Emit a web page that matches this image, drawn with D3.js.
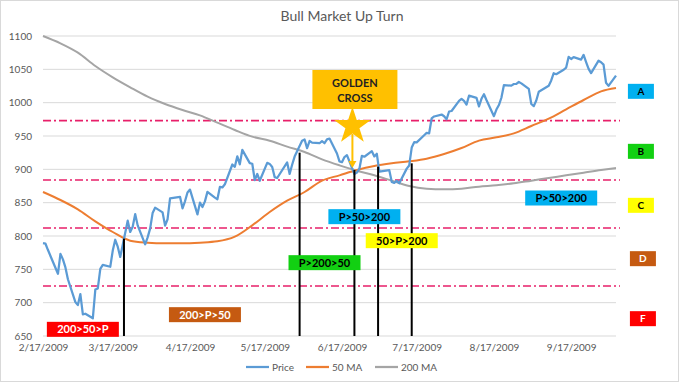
<!DOCTYPE html>
<html><head><meta charset="utf-8">
<script src="https://cdnjs.cloudflare.com/ajax/libs/d3/7.8.5/d3.min.js"></script>
<style>
body{margin:0;background:#fff;}
svg{display:block;font-family:Lato,"Open Sans",sans-serif;}
</style></head>
<body><svg id="c" width="679" height="382"></svg>
<script>
// ---- data ----
const priceDates = ["2009-02-17","2009-02-18","2009-02-19","2009-02-20","2009-02-23","2009-02-24","2009-02-25","2009-02-26","2009-02-27",
"2009-03-02","2009-03-03","2009-03-04","2009-03-05","2009-03-06","2009-03-09","2009-03-10","2009-03-11","2009-03-12","2009-03-13","2009-03-16","2009-03-17","2009-03-18","2009-03-19","2009-03-20","2009-03-23","2009-03-24","2009-03-25","2009-03-26","2009-03-27","2009-03-30","2009-03-31",
"2009-04-01","2009-04-02","2009-04-03","2009-04-06","2009-04-07","2009-04-08","2009-04-09","2009-04-13","2009-04-14","2009-04-15","2009-04-16","2009-04-17","2009-04-20","2009-04-21","2009-04-22","2009-04-23","2009-04-24","2009-04-27","2009-04-28","2009-04-29","2009-04-30",
"2009-05-01","2009-05-04","2009-05-05","2009-05-06","2009-05-07","2009-05-08","2009-05-11","2009-05-12","2009-05-13","2009-05-14","2009-05-15","2009-05-18","2009-05-19","2009-05-20","2009-05-21","2009-05-22","2009-05-26","2009-05-27","2009-05-28","2009-05-29",
"2009-06-01","2009-06-02","2009-06-03","2009-06-04","2009-06-05","2009-06-08","2009-06-09","2009-06-10","2009-06-11","2009-06-12","2009-06-15","2009-06-16","2009-06-17","2009-06-18","2009-06-19","2009-06-22","2009-06-23","2009-06-24","2009-06-25","2009-06-26","2009-06-29","2009-06-30",
"2009-07-01","2009-07-02","2009-07-06","2009-07-07","2009-07-08","2009-07-09","2009-07-10","2009-07-13","2009-07-14","2009-07-15","2009-07-16","2009-07-17","2009-07-20","2009-07-21","2009-07-22","2009-07-23","2009-07-24","2009-07-27","2009-07-28","2009-07-29","2009-07-30","2009-07-31",
"2009-08-03","2009-08-04","2009-08-05","2009-08-06","2009-08-07","2009-08-10","2009-08-11","2009-08-12","2009-08-13","2009-08-14","2009-08-17","2009-08-18","2009-08-19","2009-08-20","2009-08-21","2009-08-24","2009-08-25","2009-08-26","2009-08-27","2009-08-28","2009-08-31",
"2009-09-01","2009-09-02","2009-09-03","2009-09-04","2009-09-08","2009-09-09","2009-09-10","2009-09-11","2009-09-14","2009-09-15","2009-09-16","2009-09-17","2009-09-18","2009-09-21","2009-09-22","2009-09-23","2009-09-24","2009-09-25","2009-09-28","2009-09-29","2009-09-30",
"2009-10-01","2009-10-02","2009-10-05"];
const priceValues = [789.17,788.42,778.94,770.05,743.33,773.14,764.90,752.83,735.09,
700.82,696.33,712.87,682.55,683.38,676.53,719.60,721.36,750.74,756.55,753.89,778.12,794.35,784.04,768.54,822.92,806.12,813.88,832.86,815.94,787.53,797.87,
811.08,834.38,842.50,835.48,815.55,825.16,856.56,858.73,841.50,852.06,865.30,869.60,832.39,850.08,843.55,851.92,866.23,857.51,855.16,873.64,872.81,
877.52,907.24,903.80,919.53,907.39,929.23,909.24,908.35,883.92,893.07,882.88,909.71,908.13,903.47,888.33,887.00,910.33,893.06,906.83,919.14,
942.87,944.74,931.76,942.46,940.09,939.14,942.43,939.15,944.89,946.21,923.72,911.97,910.71,918.37,921.23,893.04,895.10,900.94,920.26,918.90,927.23,919.32,
923.33,896.42,898.72,881.03,879.56,882.68,879.13,901.05,905.84,932.68,940.74,940.38,951.13,954.58,954.07,976.29,979.26,982.18,979.62,975.15,986.75,987.48,
1002.63,1005.65,1002.72,997.08,1010.48,1007.10,994.35,1005.81,1012.73,1004.09,979.73,989.67,996.46,1007.37,1026.13,1025.57,1028.00,1028.12,1030.98,1028.93,1020.62,
998.04,994.75,1003.24,1016.40,1025.39,1033.37,1044.14,1042.73,1049.34,1052.63,1068.76,1065.49,1068.30,1064.66,1071.66,1060.87,1050.78,1044.38,1062.98,1060.61,1057.08,
1029.85,1025.21,1040.46];

const maDates = ["2009-02-17","2009-02-24","2009-03-03","2009-03-10","2009-03-17","2009-03-24","2009-03-31","2009-04-07","2009-04-14","2009-04-21","2009-04-28",
"2009-05-05","2009-05-12","2009-05-19","2009-05-26","2009-06-02","2009-06-09","2009-06-16","2009-06-23","2009-06-30","2009-07-07","2009-07-14","2009-07-21","2009-07-28",
"2009-08-04","2009-08-11","2009-08-18","2009-08-25","2009-09-01","2009-09-08","2009-09-15","2009-09-22","2009-09-29","2009-10-05"];
const ma50Values = [866,854,840,822,806,793,790,789,789,790,792,799,816,836,853,866,883,891,899,905,909,912,916,923,932,943,948,954,965,976,990,1004,1017,1022];
const ma200Values = [1100,1089,1075,1055,1038,1023,1009,998,989,981,970,959,949,943,934,926,915,906,898,891,883,875,871,870,871,874,876,879,883,887,891,895,899,902];

const yTicks = [650,700,750,800,850,900,950,1000,1050,1100];
const xTickDates = ["2009-02-17","2009-03-17","2009-04-17","2009-05-17","2009-06-17","2009-07-17","2009-08-17","2009-09-17"];
const levelValues = [973,884,812,725];
const markerDates = ["2009-03-21T12:00","2009-05-31T00:00","2009-06-22T00:00","2009-07-01T12:00","2009-07-15T00:00"];
const markerValues = [796,925,899,904,909];
const zoneLabels = ["200>50>P","200>P>50","P>200>50","P>50>200","50>P>200","P>50>200"];
const zoneDates = ["2009-03-05","2009-04-23","2009-06-10","2009-06-26","2009-07-11","2009-09-13"];
const zoneValues = [660,682,760,829,793,857];
const zoneColors = ["#FF0000","#C55A11","#12D012","#00B0F0","#FFFF00","#00B0F0"];
const zoneText = ["#fff","#fff","#000","#000","#000","#000"];
const gradeLabels = ["A","B","C","D","F"];
const gradeValues = [1017,927,846,766,676];
const gradeColors = ["#00B0F0","#12D012","#FFFF00","#C55A11","#FF0000"];
const gradeText = ["#000","#000","#000","#fff","#fff"];
const gradeDate = "2009-10-15";
const crossDate = "2009-06-22", crossValue = 899;
const series = ["Price","50 MA","200 MA"];
const seriesColors = ["#5B9BD5","#ED7D31","#A5A5A5"];

// ---- chart ----
const svg = d3.select("#c");
const pd = s => new Date(s.length > 10 ? s : s + "T00:00");
const x = d3.scaleTime().domain([pd("2009-02-17"), pd("2009-10-05")]).range([43, 616]);
const y = d3.scaleLinear().domain([650, 1100]).range([336, 36]);

svg.append("rect").attr("x",0.5).attr("y",0.5).attr("width",678).attr("height",381)
  .attr("fill","#fff").attr("stroke","#d9d9d9");

svg.append("text").attr("x",342).attr("y",21).attr("text-anchor","middle")
  .attr("font-size",14).attr("fill","#595959").text("Bull Market Up Turn");

// gridlines
svg.append("g").selectAll("line").data(yTicks).join("line")
  .attr("x1",43).attr("x2",616).attr("y1",d=>y(d)).attr("y2",d=>y(d))
  .attr("stroke","#d9d9d9").attr("stroke-width",1);

// axes
const ya = svg.append("g").attr("transform","translate(43,0)")
  .call(d3.axisLeft(y).tickValues(yTicks).tickSize(0).tickPadding(11).tickFormat(d3.format("d")));
ya.select(".domain").remove();
ya.selectAll("text").attr("font-size",10).attr("fill","#595959").attr("font-family","Lato");

const xa = svg.append("g").attr("transform","translate(0,336)")
  .call(d3.axisBottom(x).tickValues(xTickDates.map(pd)).tickSize(0).tickPadding(8).tickFormat(d3.timeFormat("%-m/%-d/%Y")));
xa.select(".domain").remove();
xa.selectAll("text").attr("font-size",10).attr("fill","#595959").attr("font-family","Lato");

// level lines
svg.append("g").selectAll("line").data(levelValues).join("line")
  .attr("x1",43).attr("x2",620).attr("y1",d=>y(d)).attr("y2",d=>y(d))
  .attr("stroke","#E8206A").attr("stroke-width",1.6).attr("stroke-dasharray","8,3,2,3");

// series lines
const line = d3.line().x(d=>x(d[0])).y(d=>y(d[1]));
const ma200 = maDates.map((d,i)=>[pd(d), ma200Values[i]]);
const ma50 = maDates.map((d,i)=>[pd(d), ma50Values[i]]);
const price = priceDates.map((d,i)=>[pd(d), priceValues[i]]);
svg.append("path").datum(ma200).attr("d",line.curve(d3.curveMonotoneX)).attr("fill","none")
  .attr("stroke",seriesColors[2]).attr("stroke-width",2);
svg.append("path").datum(ma50).attr("d",line.curve(d3.curveMonotoneX)).attr("fill","none")
  .attr("stroke",seriesColors[1]).attr("stroke-width",2);
svg.append("path").datum(price).attr("d",line.curve(d3.curveLinear)).attr("fill","none")
  .attr("stroke",seriesColors[0]).attr("stroke-width",2.25).attr("stroke-linejoin","round");

// marker verticals
svg.append("g").selectAll("line").data(markerDates).join("line")
  .attr("x1",d=>x(pd(d))).attr("x2",d=>x(pd(d)))
  .attr("y1",y(650)).attr("y2",(d,i)=>y(markerValues[i]))
  .attr("stroke","#000").attr("stroke-width",2);

// zone labels
const zg = svg.append("g").selectAll("g").data(zoneLabels).join("g")
  .attr("transform",(d,i)=>`translate(${x(pd(zoneDates[i]))},${y(zoneValues[i])})`);
zg.append("rect").attr("x",-36).attr("y",-7.5).attr("width",72).attr("height",15).attr("fill",(d,i)=>zoneColors[i]);
zg.append("text").attr("text-anchor","middle").attr("dy","0.36em").attr("font-size",11).attr("font-weight","bold")
  .attr("fill",(d,i)=>zoneText[i]).text(d=>d);

// grade labels
const gg = svg.append("g").selectAll("g").data(gradeLabels).join("g")
  .attr("transform",(d,i)=>`translate(${x(pd(gradeDate)) + (i>=3?2:0)},${y(gradeValues[i])})`);
gg.append("rect").attr("x",-13).attr("y",-7.5).attr("width",26).attr("height",15).attr("fill",(d,i)=>gradeColors[i]);
gg.append("text").attr("text-anchor","middle").attr("dy","0.36em").attr("font-size",10).attr("font-weight","bold")
  .attr("fill",(d,i)=>gradeText[i]).text(d=>d);

// golden cross annotation
const cx = x(pd(crossDate)), cy = y(crossValue);
const gc = svg.append("g");
gc.append("rect").attr("x",cx-42).attr("y",cy-100).attr("width",85).attr("height",39).attr("fill","#FFC000");
gc.append("text").attr("x",cx+0.5).attr("y",cy-83).attr("text-anchor","middle").attr("font-size",11).attr("font-weight","bold").attr("fill","#222").text("GOLDEN");
gc.append("text").attr("x",cx+0.5).attr("y",cy-68).attr("text-anchor","middle").attr("font-size",11).attr("font-weight","bold").attr("fill","#222").text("CROSS");
const star = d3.symbol().type(d3.symbolStar).size(420);
gc.append("path").attr("d",star()).attr("transform",`translate(${cx-2},${cy-44})`).attr("fill","#FFC000");
gc.append("line").attr("x1",cx-2).attr("x2",cx-2).attr("y1",cy-36).attr("y2",cy-7).attr("stroke","#FFC000").attr("stroke-width",2);
gc.append("path").attr("d",`M${cx-6},${cy-9}L${cx+2},${cy-9}L${cx-2},${cy-2}Z`).attr("fill","#FFC000");

// legend
const lg = svg.append("g").selectAll("g").data(series).join("g")
  .attr("transform",(d,i)=>`translate(${[246,306,375][i]},367)`);
lg.append("line").attr("x1",0).attr("x2",23).attr("stroke",(d,i)=>seriesColors[i]).attr("stroke-width",2.25);
lg.append("text").attr("x",26).attr("dy","0.35em").attr("font-size",10).attr("fill","#595959").text(d=>d);
</script></body></html>
